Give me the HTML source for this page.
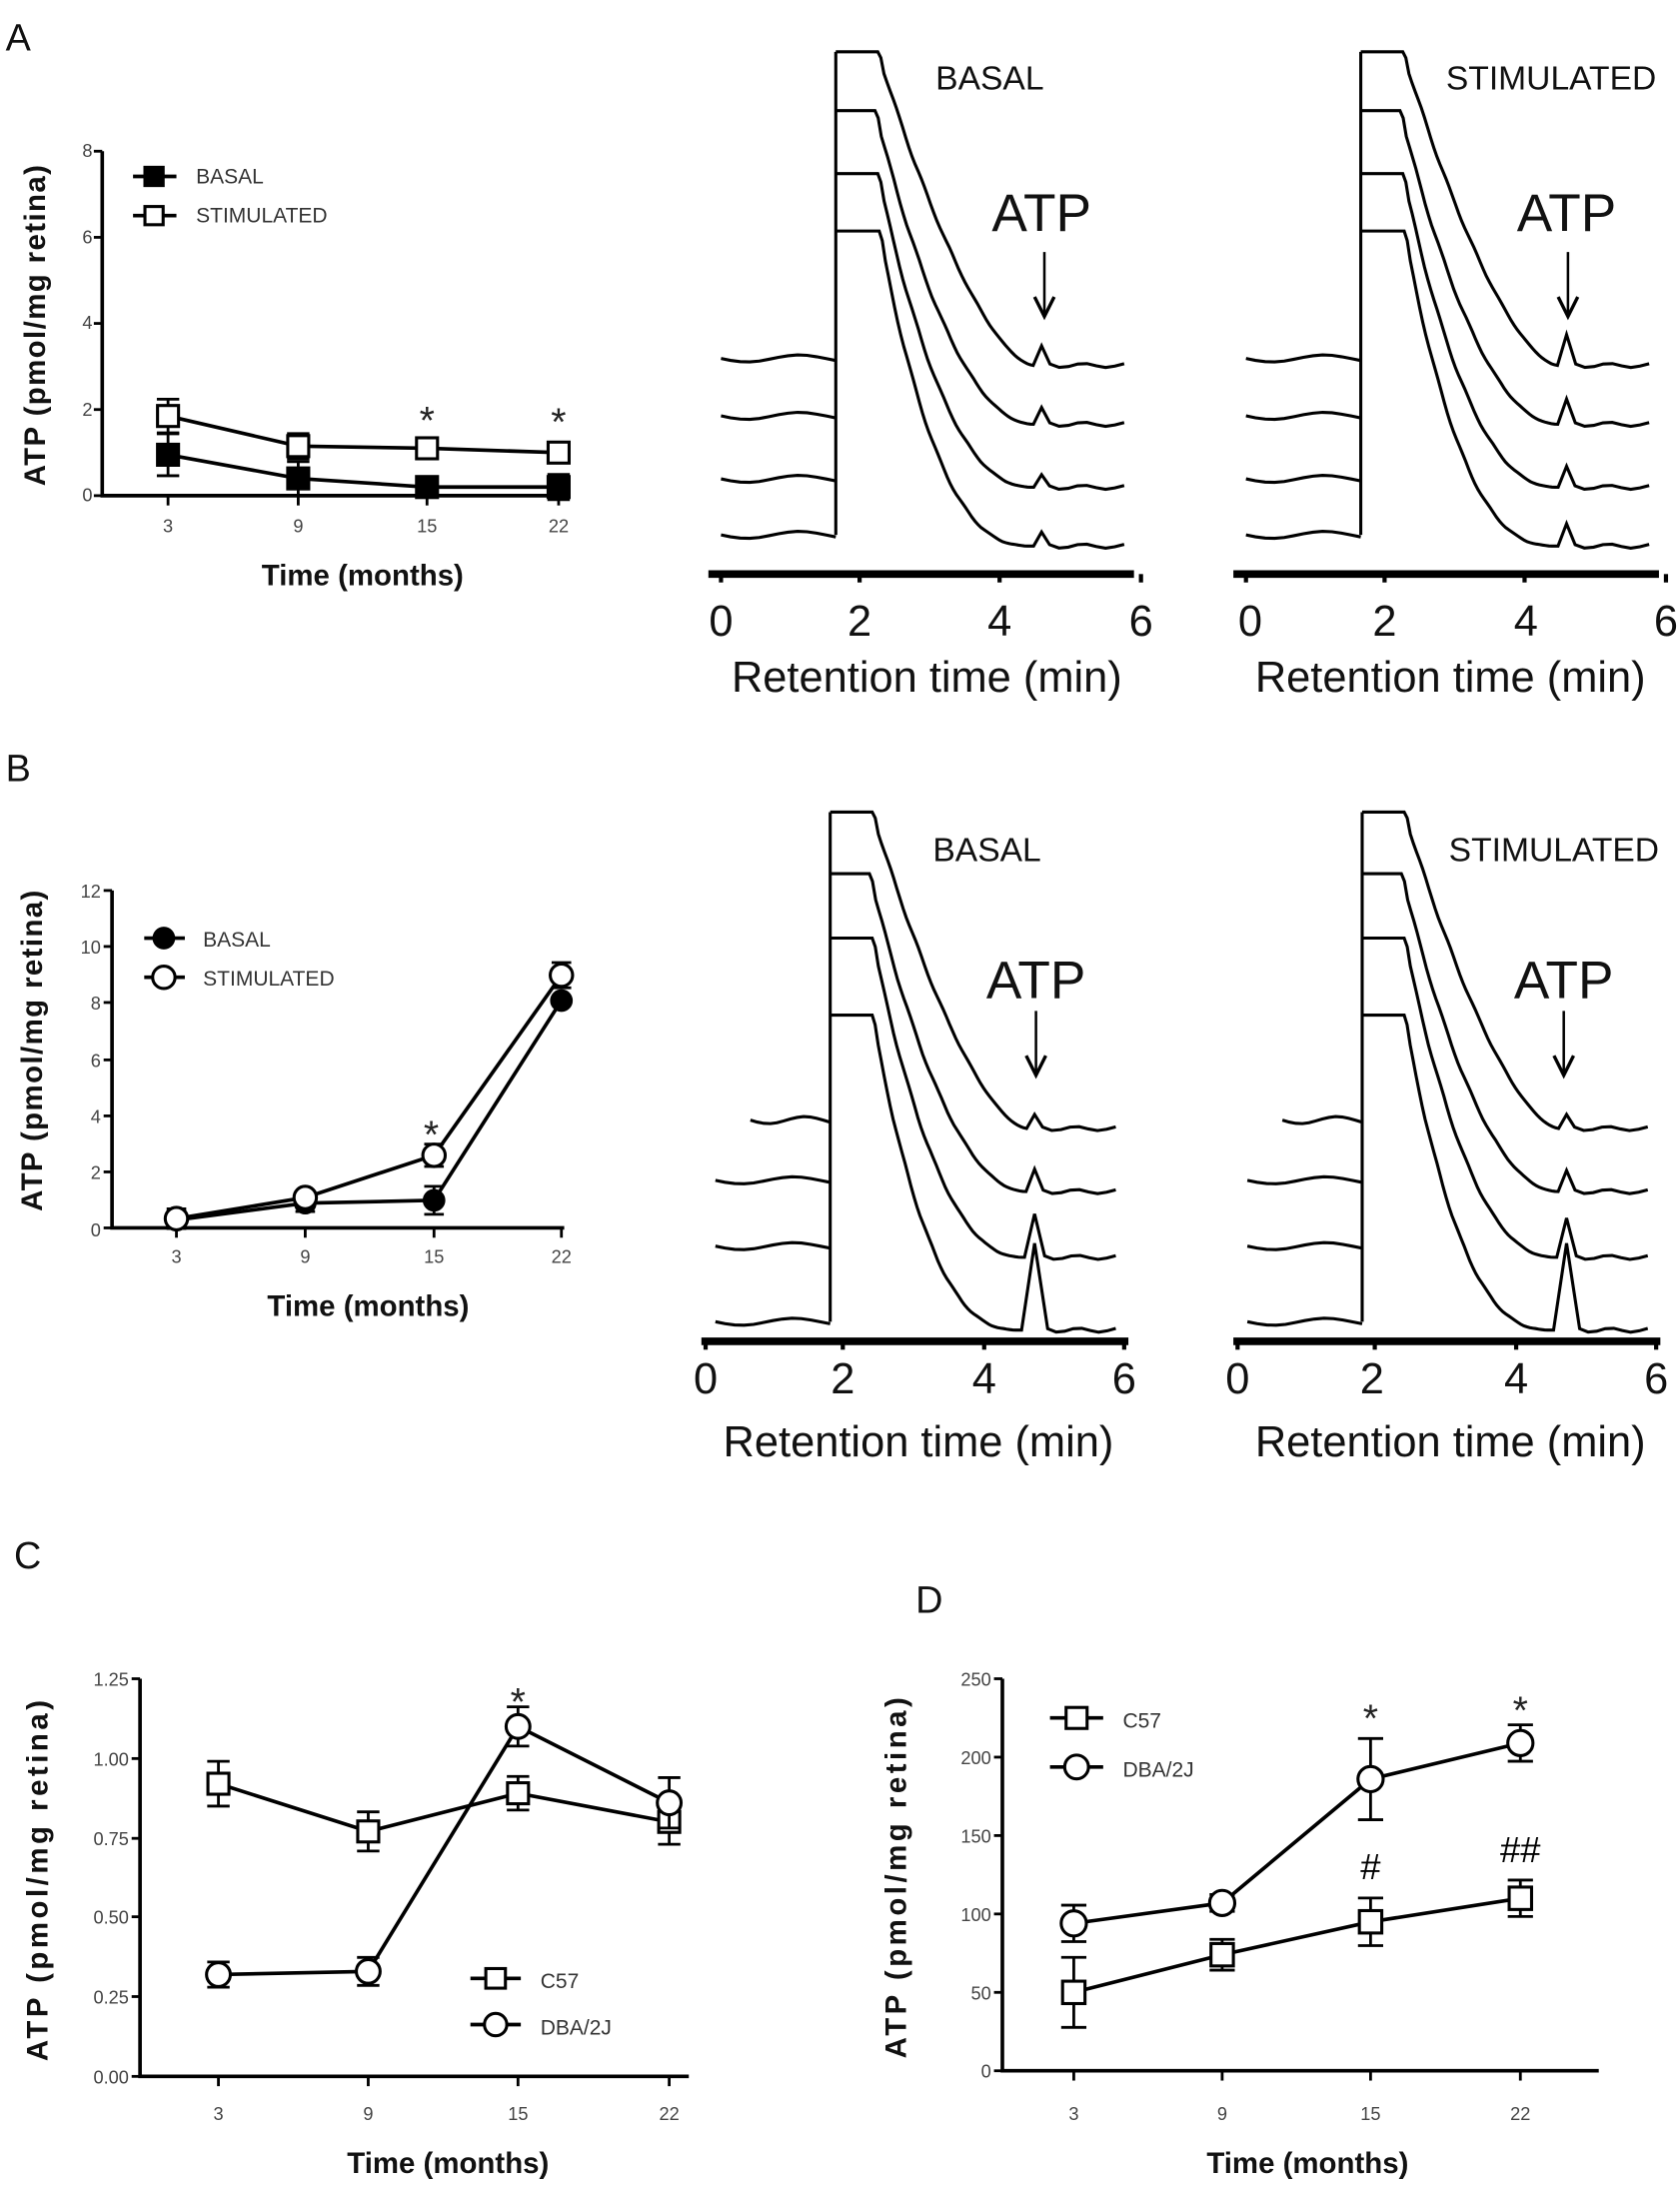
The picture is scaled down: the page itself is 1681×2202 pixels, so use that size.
<!DOCTYPE html>
<html><head><meta charset="utf-8"><style>
html,body{margin:0;padding:0;background:#fff;}
svg{display:block;}
text{font-family:"Liberation Sans",Arial,sans-serif;}
.tk{font-size:13px;fill:#444;}
.ttl{font-size:21px;font-weight:bold;fill:#111;}
.lg{font-size:15px;fill:#333;}
.big{font-size:27px;fill:#111;}
.ct{font-size:24px;fill:#111;}
.ctl{font-size:31px;fill:#111;}
</style></head><body>
<svg id="s" width="1681" height="2202" viewBox="0 0 1200 1572" xmlns="http://www.w3.org/2000/svg">
<rect width="1200" height="1572" fill="#fff"/>
<g id="g" fill="none" stroke="#000" stroke-width="2.4"></g>

<text x="4" y="36" class="big" font-size="32">A</text>
<text x="4" y="558" class="big" font-size="32">B</text>
<text x="10" y="1120" class="big" font-size="32">C</text>
<text x="654" y="1152" class="big" font-size="32">D</text>

<!-- A left -->
<g class="tk" text-anchor="end">
<text x="66" y="112">8</text><text x="66" y="174">6</text><text x="66" y="235">4</text><text x="66" y="297">2</text><text x="66" y="358">0</text>
</g>
<g class="tk" text-anchor="middle">
<text x="120" y="380">3</text><text x="213" y="380">9</text><text x="305" y="380">15</text><text x="399" y="380">22</text>
</g>
<text x="259" y="418" class="ttl" text-anchor="middle" font-size="23">Time (months)</text>
<text transform="translate(32,232) rotate(-90)" class="ttl" text-anchor="middle" font-size="22" letter-spacing="1">ATP (pmol/mg retina)</text>
<text x="140" y="131" class="lg">BASAL</text>
<text x="140" y="159" class="lg">STIMULATED</text>
<text x="305" y="310" font-size="28" text-anchor="middle" fill="#222">*</text>
<text x="399" y="311" font-size="28" text-anchor="middle" fill="#222">*</text>

<!-- B left -->
<g class="tk" text-anchor="end">
<text x="72" y="641">12</text><text x="72" y="681">10</text><text x="72" y="721">8</text><text x="72" y="762">6</text><text x="72" y="802">4</text><text x="72" y="842">2</text><text x="72" y="883">0</text>
</g>
<g class="tk" text-anchor="middle">
<text x="126" y="902">3</text><text x="218" y="902">9</text><text x="310" y="902">15</text><text x="401" y="902">22</text>
</g>
<text x="263" y="940" class="ttl" text-anchor="middle" font-size="23">Time (months)</text>
<text transform="translate(30,750) rotate(-90)" class="ttl" text-anchor="middle" font-size="22" letter-spacing="1">ATP (pmol/mg retina)</text>
<text x="145" y="676" class="lg">BASAL</text>
<text x="145" y="704" class="lg">STIMULATED</text>
<text x="308" y="820" font-size="28" text-anchor="middle" fill="#222">*</text>

<text x="707" y="64" class="ct" text-anchor="middle">BASAL</text>
<text x="1108" y="64" class="ct" text-anchor="middle">STIMULATED</text>
<text x="744" y="165" font-size="38" text-anchor="middle" fill="#111">ATP</text>
<text x="1119" y="165" font-size="38" text-anchor="middle" fill="#111">ATP</text>
<g class="ctl" text-anchor="middle">
<text x="515" y="454">0</text><text x="614" y="454">2</text><text x="714" y="454">4</text><text x="815" y="454">6</text>
<text x="893" y="454">0</text><text x="989" y="454">2</text><text x="1090" y="454">4</text><text x="1190" y="454">6</text>
<text x="662" y="494">Retention time (min)</text>
<text x="1036" y="494">Retention time (min)</text>
</g>
<text x="705" y="615" class="ct" text-anchor="middle">BASAL</text>
<text x="1110" y="615" class="ct" text-anchor="middle">STIMULATED</text>
<text x="740" y="713" font-size="38" text-anchor="middle" fill="#111">ATP</text>
<text x="1117" y="713" font-size="38" text-anchor="middle" fill="#111">ATP</text>
<g class="ctl" text-anchor="middle">
<text x="504" y="995">0</text><text x="602" y="995">2</text><text x="703" y="995">4</text><text x="803" y="995">6</text>
<text x="884" y="995">0</text><text x="980" y="995">2</text><text x="1083" y="995">4</text><text x="1183" y="995">6</text>
<text x="656" y="1040">Retention time (min)</text>
<text x="1036" y="1040">Retention time (min)</text>
</g>

<!-- C -->
<g class="tk" text-anchor="end" font-size="15">
<text x="92" y="1204">1.25</text><text x="92" y="1261">1.00</text><text x="92" y="1318">0.75</text><text x="92" y="1374">0.50</text><text x="92" y="1431">0.25</text><text x="92" y="1488">0.00</text>
</g>
<g class="tk" text-anchor="middle" font-size="16">
<text x="156" y="1514">3</text><text x="263" y="1514">9</text><text x="370" y="1514">15</text><text x="478" y="1514">22</text>
</g>
<text x="320" y="1552" class="ttl" text-anchor="middle" font-size="25">Time (months)</text>
<text transform="translate(34,1342) rotate(-90)" class="ttl" text-anchor="middle" font-size="26" letter-spacing="2.5">ATP (pmol/mg retina)</text>
<text x="386" y="1420" class="lg" font-size="20">C57</text>
<text x="386" y="1453" class="lg" font-size="20">DBA/2J</text>
<text x="370" y="1225" font-size="28" text-anchor="middle" fill="#222">*</text>

<!-- D -->
<g class="tk" text-anchor="end" font-size="15">
<text x="708" y="1204">250</text><text x="708" y="1260">200</text><text x="708" y="1316">150</text><text x="708" y="1372">100</text><text x="708" y="1428">50</text><text x="708" y="1484">0</text>
</g>
<g class="tk" text-anchor="middle" font-size="16">
<text x="767" y="1514">3</text><text x="873" y="1514">9</text><text x="979" y="1514">15</text><text x="1086" y="1514">22</text>
</g>
<text x="934" y="1552" class="ttl" text-anchor="middle" font-size="25">Time (months)</text>
<text transform="translate(647,1340) rotate(-90)" class="ttl" text-anchor="middle" font-size="26" letter-spacing="2.5">ATP (pmol/mg retina)</text>
<text x="802" y="1234" class="lg" font-size="20">C57</text>
<text x="802" y="1269" class="lg" font-size="20">DBA/2J</text>
<text x="979" y="1237" font-size="28" text-anchor="middle" fill="#222">*</text>
<text x="1086" y="1231" font-size="28" text-anchor="middle" fill="#222">*</text>
<text x="979" y="1342" font-size="26" text-anchor="middle" fill="#000" font-family="Liberation Serif">#</text>
<text x="1086" y="1330" font-size="26" text-anchor="middle" fill="#000" font-family="Liberation Serif">##</text>
</svg>
<script>
var g=document.getElementById('g');var NS='http://www.w3.org/2000/svg';
function el(t,a){var e=document.createElementNS(NS,t);for(var k in a)e.setAttribute(k,a[k]);g.appendChild(e);return e;}
function P(d,w){return el('path',{d:d,'stroke-width':w||2.4});}
function axes(x0,y0,yTop,xEnd,yt,xt,w){P('M'+x0+','+yTop+'V'+y0+'H'+xEnd,w||2.6);
 yt.forEach(function(y){P('M'+(x0-6)+','+y+'H'+x0,2);});
 xt.forEach(function(x){P('M'+x+','+y0+'V'+(y0+7),2);});}
function err(x,y1,y2,c){P('M'+x+','+y1+'V'+y2,2);P('M'+(x-c)+','+y1+'H'+(x+c)+'M'+(x-c)+','+y2+'H'+(x+c),2);}
function sq(x,y,s,f){el('rect',{x:x-s/2,y:y-s/2,width:s,height:s,fill:f,'stroke-width':2.2});}
function ci(x,y,r,f){el('circle',{cx:x,cy:y,r:r,fill:f,'stroke-width':2.2});}
function line(pts,w){P('M'+pts.map(function(p){return p.join(',')}).join('L'),w||2.6);}
function series(xs,ys,es,mk,sz,f,ec){for(var i=0;i<xs.length;i++){if(es[i])err(xs[i],ys[i]-es[i],ys[i]+es[i],ec);}
 line(xs.map(function(x,i){return [x,ys[i]]}));for(i=0;i<xs.length;i++)mk(xs[i],ys[i],sz,f);}
var ax=[120,213,305,399];var ya=function(v){return 354-30.75*v};
axes(73,354,108,407,[108,169.5,231,292.5,354],ax);
series(ax,[1.85,1.15,1.1,1.0].map(ya),[12,9,5,4],sq,15,'#fff',8);
series(ax,[0.95,0.4,0.2,0.2].map(ya),[15,12,0,9],sq,15,'#000',8);
P('M95,126H126',2.6);sq(110,126,13,'#000');P('M95,154H126',2.6);sq(110,154,13,'#fff');
var bx=[126,218,310,401];var yb=function(v){return 877.4-20.1*v};
axes(80,877,636,403,[636,676,716,757,797,837,877],bx);
series(bx,[0.3,0.9,1.0,8.1].map(yb),[6,6,10,0],ci,7,'#000',7);
series(bx,[0.35,1.1,2.6,9.0].map(yb),[7,0,8,9],ci,8,'#fff',7);
P('M103,670H132',2.6);ci(117,670,7,'#000');P('M103,698H132',2.6);ci(117,698,8,'#fff');
var cx=[156,263,370,478];var yc=function(v){return 1483-227.2*v};
axes(100,1483,1199,492,[1199,1256,1313,1369,1426,1483],cx);
series(cx,[0.92,0.77,0.89,0.80].map(yc),[16,14,12,16],sq,15,'#fff',8);
series(cx,[0.32,0.33,1.10,0.86].map(yc),[9,10,14,18],ci,8.5,'#fff',8);
P('M336,1413H372',2.6);sq(354,1413,14,'#fff');P('M336,1446H372',2.6);ci(354,1446,8,'#fff');
var dx=[767,873,979,1086];var yd=function(v){return 1479-1.12*v};
axes(716,1479,1199,1142,[1199,1255,1311,1367,1423,1479],dx);
series(dx,[50,74,95,110].map(yd),[25,11,17,13],sq,16,'#fff',9);
series(dx,[94,107,186,209].map(yd),[13,6,29,13],ci,9,'#fff',9);
P('M750,1227H788',2.6);sq(769,1227,15,'#fff');P('M750,1262H788',2.6);ci(769,1262,8.5,'#fff');
function chrom(dx,o){var xs0=o.x0,X=o.X;
 P('M'+(o.axL+dx)+','+o.ay+'H'+(o.axR+dx),5.5);
 o.tick.forEach(function(t){P('M'+(t+dx)+','+o.ay+'V'+(o.ay+6),3);});
 P('M'+(X+dx)+','+o.tr[o.tr.length-1].b+'V'+o.tr[0].T,2.2);
 var pw=[1.6,2.0,2.3,2.6];
 o.tr.forEach(function(t,k){
  var s=t.s||xs0;var d='M'+(s+dx)+','+t.b;var n=12;
  for(var i=1;i<=n;i++){var x=s+(X-s)*i/n;var y=t.b+2.5*Math.sin(i/n*Math.PI*2.2);d+='L'+(x+dx).toFixed(1)+','+y.toFixed(1);}
  P(d,2.2);
  var px=o.px,h=(dx?t.h2:t.h),w=3+h*0.07;
  d='M'+(X+dx)+','+t.T+'H'+(t.Tx+dx);
  var x1=px-w-2,N=50;
  for(i=1;i<=N;i++){var u=i/N;var ff=1-Math.pow(1-u,pw[k]);
   var x=t.Tx+(x1-t.Tx)*u;var y=t.T+(t.E-t.T)*ff+Math.sin(u*37+k)*1.5*(1-u);
   if(i==1)y=t.T+(t.E-t.T)*ff*0.6;
   d+='L'+(x+dx).toFixed(1)+','+y.toFixed(1);}
  d+='L'+(px+dx)+','+(t.E-h)+'L'+(px+w+2+dx)+','+(t.E-1);
  for(i=1;i<=8;i++){var x=px+w+2+(o.xe-px-w-2)*i/8;d+='L'+(x+dx).toFixed(1)+','+(t.E+1.5*Math.sin(i*1.3)).toFixed(1);}
  P(d,2.2);});
 var a=dx?o.arr2:o.arr;P('M'+a[0]+','+a[1]+'V'+a[2],1.8);P('M'+(a[0]-7)+','+(a[2]-14)+'L'+a[0]+','+a[2]+'L'+(a[0]+7)+','+(a[2]-14),2.4);
}
var A={x0:515,X:597,px:744,xe:803,ay:410,axL:506,axR:810,tick:[515,614,714,815],arr:[746,180,226],arr2:[1120,180,226],
 tr:[{T:37,Tx:627,b:256,E:261,h:14,h2:22},{T:79,Tx:625,b:297,E:303,h:12,h2:18},{T:124,Tx:627,b:342,E:348,h:9,h2:15},{T:165,Tx:628,b:382,E:390,h:10,h2:16}]};
chrom(0,A);chrom(375,A);
var B={x0:511,X:593,px:739,xe:797,ay:958,axL:501,axR:806,tick:[504,602,703,803],arr:[740,722,768],arr2:[1117,722,768],
 tr:[{T:580,Tx:623,b:800,E:806,h:10,h2:10,s:536},{T:624,Tx:621,b:843,E:851,h:16,h2:15},{T:670,Tx:623,b:890,E:898,h:31,h2:28},{T:725,Tx:623,b:944,E:950,h:62,h2:62}]};
chrom(0,B);chrom(380,B);
</script>
</body></html>
